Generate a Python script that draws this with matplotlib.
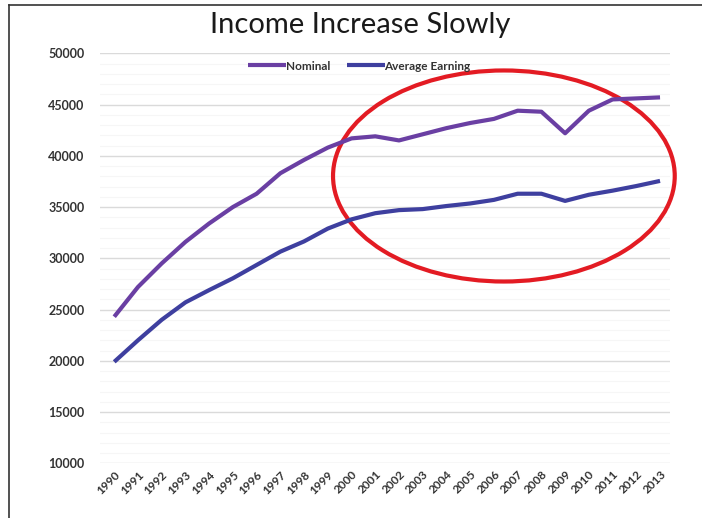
import matplotlib
matplotlib.use("Agg")
import matplotlib.pyplot as plt
from matplotlib.patches import Ellipse
from matplotlib.lines import Line2D
from matplotlib.ticker import MultipleLocator

years = [str(y) for y in range(1990, 2014)]
nominal = [24300, 27200, 29500, 31600, 33400, 35000, 36300, 38300, 39600, 40800,
           41700, 41900, 41500, 42100, 42700, 43200, 43600, 44400, 44300, 42200,
           44400, 45500, 45600, 45700]
average = [19900, 22000, 24000, 25700, 26900, 28050, 29350, 30650, 31650, 32900,
           33800, 34400, 34700, 34800, 35100, 35350, 35700, 36300, 36300, 35600,
           36200, 36600, 37050, 37550]
yticks = [10000, 15000, 20000, 25000, 30000, 35000, 40000, 45000, 50000]

plt.rcParams['font.family'] = ['Lato', 'DejaVu Sans']

fig = plt.figure(figsize=(7.02, 5.18), dpi=100)
ax = fig.add_axes([100/702, (518-463.3)/518, 570/702, 410/518])

x = list(range(len(years)))
ax.plot(x, nominal, color='#6a3fa3', lw=3.0, label='Nominal', solid_capstyle='butt')
ax.plot(x, average, color='#3e3f9f', lw=3.0, label='Average Earning', solid_capstyle='butt')

ax.set_xlim(-0.6, 23.42)
ax.set_ylim(10000, 50000)
ax.set_yticks(yticks)
ax.set_yticklabels([str(v) for v in yticks], fontsize=9, fontweight='bold', color='#333333')
ax.yaxis.set_minor_locator(MultipleLocator(1000))
ax.set_xticks(x)
ax.set_xticklabels(years, rotation=45, ha='right', rotation_mode='anchor',
                   fontsize=8.5, fontweight='bold', color='#333333')
ax.tick_params(axis='both', which='both', length=0)
ax.tick_params(axis='y', pad=11)
ax.tick_params(axis='x', pad=4)
ax.grid(axis='y', which='major', color='#dadada', lw=1.0)
ax.grid(axis='y', which='minor', color='#f6f6f6', lw=0.8)
ax.set_axisbelow(True)
for s in ax.spines.values():
    s.set_visible(False)

leg = ax.legend(loc='center', bbox_to_anchor=(0.455, 0.969), ncol=2, frameon=False,
                handlelength=3.2, handletextpad=0.0, columnspacing=1.4,
                prop={'size': 8.5, 'weight': 'bold'})
for t in leg.get_texts():
    t.set_color('#333333')

ell = Ellipse((16.42, 38030), width=14.4, height=20590, fill=False,
              edgecolor='#e31b23', lw=3.0, clip_on=False)
ax.add_patch(ell)

fig.text(0.513, 1 - 25/518, 'Income Increase Slowly', ha='center', va='center',
         fontsize=21, color='#1a1a1a')

fig.add_artist(Line2D([9/702, 9/702], [0, 1 - 5/518], color='#333333', lw=1.2))
fig.add_artist(Line2D([9/702, 1], [1 - 5/518, 1 - 5/518], color='#333333', lw=1.2))

fig.savefig('out.png', dpi=100)
